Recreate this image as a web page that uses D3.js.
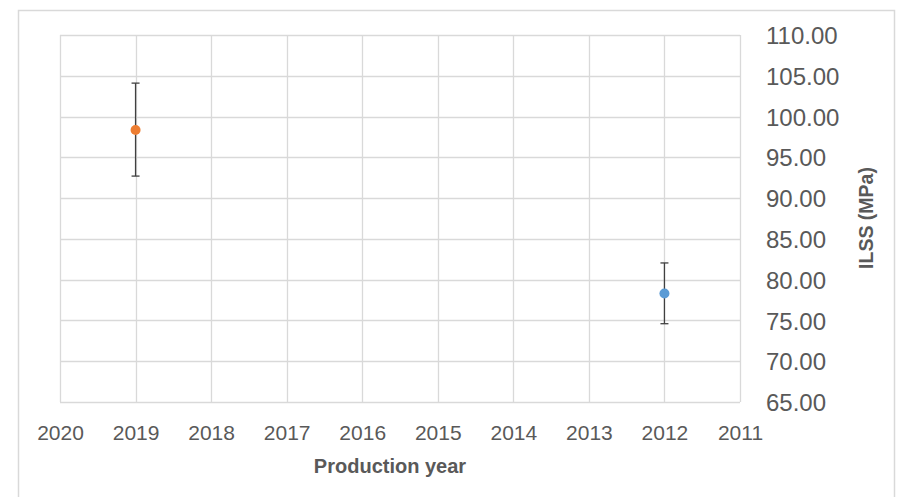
<!DOCTYPE html>
<html>
<head>
<meta charset="utf-8">
<script src="https://cdn.jsdelivr.net/npm/d3@7"></script>
<style>
  body { margin: 0; background: #fff; }
  svg { display: block; }
  text { font-family: "Liberation Sans", Arial, sans-serif; fill: #595959; }
</style>
</head>
<body>
<script>
// data
const seriesNames = ['2012 batch', '2019 batch'];
const years = [2012, 2019];
const ilss = [78.3, 98.35];
const errLow = [74.6, 92.7];
const errHigh = [82.05, 104.1];
const seriesColors = ['#5B9BD5', '#ED7D31'];

const xTicks = [2020, 2019, 2018, 2017, 2016, 2015, 2014, 2013, 2012, 2011];
const yTicks = [65, 70, 75, 80, 85, 90, 95, 100, 105, 110];

const W = 898, H = 497;
const margin = { top: 35, right: 158, bottom: 95, left: 60 };
const width = W - margin.left - margin.right;
const height = H - margin.top - margin.bottom;

const svg = d3.select('body').append('svg')
	.attr('width', W)
	.attr('height', H);

// chart border
svg.append('rect')
	.attr('x', 18.5).attr('y', 10.5)
	.attr('width', 876).attr('height', 500)
	.attr('fill', 'none')
	.attr('stroke', '#d9d9d9')
	.attr('stroke-width', 1.5);

const g = svg.append('g')
	.attr('transform', `translate(${margin.left},${margin.top})`);

// x axis runs backwards, 2020 at the left
const xScale = d3.scaleLinear()
	.domain([2020, 2011])
	.range([0, width]);
const yScale = d3.scaleLinear()
	.domain([65, 110])
	.range([height, 0]);

// gridlines
g.append('g')
	.selectAll('line')
	.data(yTicks)
	.join('line')
	.attr('x1', 0).attr('x2', width)
	.attr('y1', d => Math.round(yScale(d)) + 0.5)
	.attr('y2', d => Math.round(yScale(d)) + 0.5)
	.attr('stroke', '#d9d9d9')
	.attr('stroke-width', 1.3);

g.append('g')
	.selectAll('line')
	.data(xTicks)
	.join('line')
	.attr('x1', d => Math.round(xScale(d)) + 0.5)
	.attr('x2', d => Math.round(xScale(d)) + 0.5)
	.attr('y1', 0).attr('y2', height)
	.attr('stroke', '#d9d9d9')
	.attr('stroke-width', 1.3);

// y axis on the right
const yAxis = g.append('g')
	.attr('transform', `translate(${width},0)`)
	.call(d3.axisRight(yScale).tickValues(yTicks).tickFormat(d3.format('.2f')).tickSize(0).tickPadding(26));
yAxis.select('.domain').remove();
yAxis.selectAll('text')
	.attr('font-size', 24)
	.attr('fill', '#595959')
	.attr('font-family', '"Liberation Sans", Arial, sans-serif')
	.attr('dy', '0.36em');

// x axis
const xAxis = g.append('g')
	.attr('transform', `translate(0,${height})`)
	.call(d3.axisBottom(xScale).tickValues(xTicks).tickFormat(d3.format('d')).tickSize(0).tickPadding(23));
xAxis.select('.domain').remove();
xAxis.selectAll('text')
	.attr('font-size', 21)
	.attr('fill', '#595959')
	.attr('font-family', '"Liberation Sans", Arial, sans-serif');

// axis titles
svg.append('text')
	.attr('x', margin.left + width / 2 - 10)
	.attr('y', 473)
	.attr('text-anchor', 'middle')
	.attr('font-size', 20)
	.attr('font-weight', 'bold')
	.text('Production year');

svg.append('text')
	.attr('transform', 'translate(873,218) rotate(-90)')
	.attr('text-anchor', 'middle')
	.attr('font-size', 19.5)
	.attr('font-weight', 'bold')
	.text('ILSS (MPa)');

// error bars and points
const pts = years.map((y, i) => ({
	name: seriesNames[i], year: y, v: ilss[i], lo: errLow[i], hi: errHigh[i], color: seriesColors[i]
}));

const mark = g.selectAll('g.pt')
	.data(pts)
	.join('g')
	.attr('class', 'pt');

mark.append('line')
	.attr('x1', d => xScale(d.year)).attr('x2', d => xScale(d.year))
	.attr('y1', d => yScale(d.lo)).attr('y2', d => yScale(d.hi))
	.attr('stroke', '#404040')
	.attr('stroke-width', 1.3);

[d => d.lo, d => d.hi].forEach(f => {
	mark.append('line')
		.attr('x1', d => xScale(d.year) - 4).attr('x2', d => xScale(d.year) + 4)
		.attr('y1', d => yScale(f(d))).attr('y2', d => yScale(f(d)))
		.attr('stroke', '#404040')
		.attr('stroke-width', 1.3);
});

mark.append('circle')
	.attr('cx', d => xScale(d.year))
	.attr('cy', d => yScale(d.v))
	.attr('r', 5)
	.attr('fill', d => d.color);
</script>
</body>
</html>
